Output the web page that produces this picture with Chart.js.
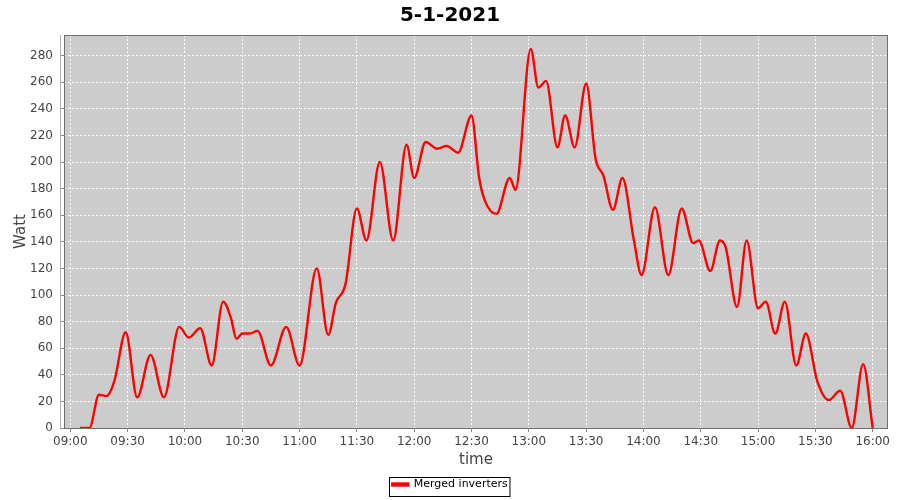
<!DOCTYPE html>
<html lang="en">
<head>
  <meta charset="UTF-8">
  <title>5-1-2021</title>
  <script src="https://cdn.jsdelivr.net/npm/chart.js"></script>
  <style>
    html, body { margin: 0; padding: 0; background: #fff; }
    #wrap { width: 900px; height: 500px; }
  </style>
</head>
<body>
  <div id="wrap"><canvas id="powerChart" width="900" height="500"></canvas></div>
  <script>
    // readings (time of day, watts)
    const times = ['09:05','09:10','09:15','09:19','09:23','09:29','09:35','09:42','09:49','09:57',
                   '10:02','10:08','10:14','10:20','10:24','10:27','10:30','10:34','10:38','10:45',
                   '10:53','11:00','11:09','11:15','11:19','11:24','11:30','11:35','11:42','11:49',
                   '11:56','12:00','12:06','12:12','12:17','12:23','12:30','12:34','12:37','12:43',
                   '12:50','12:53','13:01','13:05','13:09','13:15','13:19','13:24','13:30','13:35',
                   '13:39','13:44','13:49','13:55','13:59','14:06','14:13','14:20','14:26','14:29',
                   '14:35','14:40','14:43','14:49','14:54','15:00','15:04','15:09','15:14','15:20',
                   '15:25','15:31','15:37','15:43','15:49','15:55','16:00'];
    const watts = [0, 0, 25, 24, 35, 72, 23, 55, 23, 76,
                   68, 75, 47, 95, 83, 67, 71, 71, 73, 47,
                   76, 47, 120, 70, 94, 108, 165, 141, 200, 141,
                   213, 188, 215, 210, 212, 207, 235, 188, 171, 161,
                   188, 179, 285, 256, 261, 211, 235, 211, 259, 202,
                   190, 164, 188, 141, 115, 166, 115, 165, 139, 141,
                   118, 141, 136, 91, 141, 90, 95, 71, 95, 47,
                   71, 35, 21, 28, 0, 48, 0];
    const xTickLabels = ['09:00','09:30','10:00','10:30','11:00','11:30','12:00','12:30',
                         '13:00','13:30','14:00','14:30','15:00','15:30','16:00'];
    const yTickValues = [0,20,40,60,80,100,120,140,160,180,200,220,240,260,280];

    const toMin = t => { const [h, m] = t.split(':').map(Number); return (h - 9) * 60 + m; };
    const fmt = v => {
      const h = 9 + Math.floor(v / 60), m = Math.round(v % 60);
      return String(h).padStart(2, '0') + ':' + String(m).padStart(2, '0');
    };
    const points = times.map((t, i) => ({ x: toMin(t), y: watts[i] }));

    const FONT = 'DejaVu Sans, Verdana, sans-serif';
    Chart.defaults.font.family = FONT;

    // grey plot background, outline, axis line and framed legend
    const frame = {
      id: 'frame',
      beforeDraw(chart) {
        const { ctx, chartArea: a } = chart;
        ctx.save();
        ctx.fillStyle = '#cccccc';
        ctx.fillRect(a.left, a.top, a.right - a.left, a.bottom - a.top);
        ctx.restore();
      },
      afterDraw(chart) {
        const { ctx, chartArea: a } = chart;
        ctx.save();
        ctx.strokeStyle = '#707070';
        ctx.lineWidth = 1;
        ctx.strokeRect(a.left + 0.5, a.top + 0.5, a.right - a.left - 1, a.bottom - a.top);
        ctx.strokeStyle = '#b0b0b0';
        ctx.beginPath();
        ctx.moveTo(a.left - 3.5, a.top);
        ctx.lineTo(a.left - 3.5, a.bottom);
        ctx.stroke();
        const hb = chart.legend.legendHitBoxes[0];
        if (hb) {
          ctx.strokeStyle = '#000';
          ctx.strokeRect(Math.round(hb.left) - 2.5, Math.round(hb.top) - 1.5, hb.width + 5, hb.height + 8);
        }
        ctx.restore();
      }
    };

    const gridOpts = { color: 'rgba(255,255,255,0.9)', tickLength: 4, tickColor: '#888', tickBorderDash: [] };
    const borderOpts = { display: false, dash: [2, 2] };

    new Chart(document.getElementById('powerChart'), {
      type: 'line',
      data: {
        datasets: [{
          label: 'Merged inverters',
          data: points,
          borderColor: '#ff0000',
          backgroundColor: '#ff0000',
          borderWidth: 2.4,
          pointRadius: 0,
          cubicInterpolationMode: 'monotone',
          fill: false
        }]
      },
      options: {
        responsive: false,
        animation: false,
        layout: { padding: { left: 12, right: 12, top: 0, bottom: 0 } },
        plugins: {
          title: {
            display: true,
            text: '5-1-2021',
            color: '#000',
            font: { size: 20, weight: 'bold' },
            padding: { top: 4, bottom: 7 }
          },
          legend: {
            position: 'bottom',
            labels: {
              color: '#000',
              font: { size: 11 },
              boxWidth: 16,
              boxHeight: 2,
              padding: 10
            }
          },
          tooltip: { enabled: false }
        },
        scales: {
          x: {
            type: 'linear',
            min: -3.3,
            max: 428,
            afterFit: s => { s.height = 41; },
            afterBuildTicks: s => { s.ticks = xTickLabels.map(t => ({ value: toMin(t) })); },
            ticks: { color: '#444', font: { size: 12 }, padding: 3, maxRotation: 0, callback: v => fmt(v) },
            grid: gridOpts,
            border: borderOpts,
            title: { display: true, text: 'time', color: '#444', font: { size: 15 }, padding: { top: 0, bottom: 0 } }
          },
          y: {
            min: 0,
            max: 295.5,
            afterFit: s => { s.width = 52; },
            afterBuildTicks: s => { s.ticks = yTickValues.map(v => ({ value: v })); },
            ticks: { color: '#444', font: { size: 12 }, padding: 7 },
            grid: gridOpts,
            border: borderOpts,
            title: { display: true, text: 'Watt', color: '#444', font: { size: 15 }, padding: { top: 0, bottom: 0 } }
          }
        }
      },
      plugins: [frame]
    });
  </script>
</body>
</html>
